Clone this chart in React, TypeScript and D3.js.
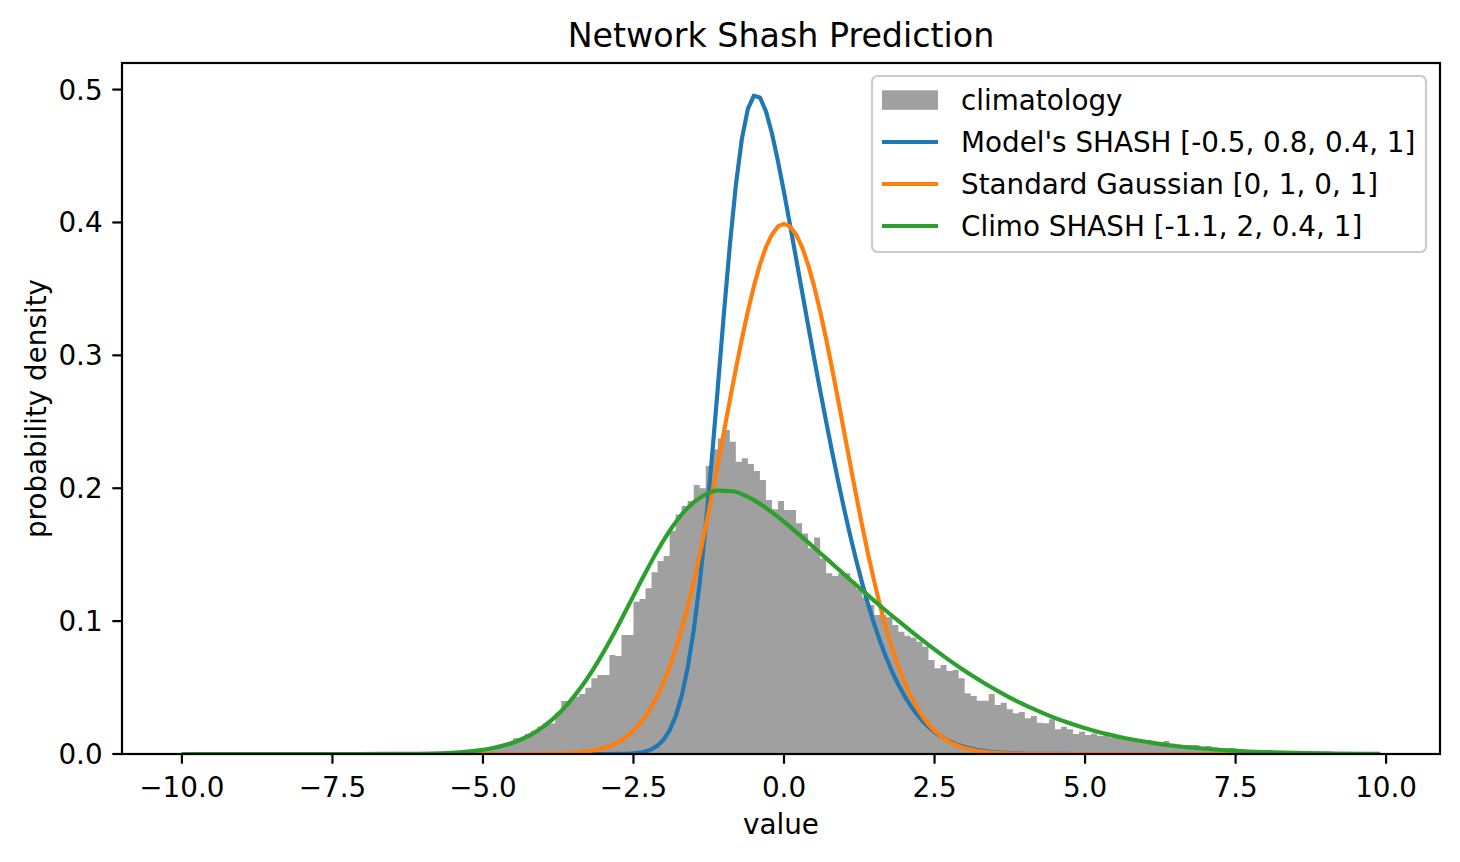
import * as d3 from "d3"

const title = "Network Shash Prediction"
const xLabel = "value"
const yLabel = "probability density"

const xTicks = [-10, -7.5, -5, -2.5, 0, 2.5, 5, 7.5, 10]
const yTicks = [0, 0.1, 0.2, 0.3, 0.4, 0.5]

// climatology histogram (density), bins of 0.1 starting at -5.2
const climoBinStart = -5.2
const climoBinWidth = 0.1
const climoDensity = [
  0.001, 0.002, 0.003, 0.0043, 0.0055, 0.0068, 0.008, 0.0118, 0.0118, 0.015,
  0.0175, 0.0205, 0.0233, 0.023, 0.031, 0.0399, 0.0399, 0.043, 0.0451, 0.0499,
  0.057, 0.0594, 0.0594, 0.0745, 0.0737, 0.0896, 0.0896, 0.1146, 0.1166, 0.1247,
  0.1367, 0.1452, 0.149, 0.168, 0.1803, 0.1866, 0.1904, 0.2024, 0.2, 0.2167,
  0.2293, 0.2375, 0.2438, 0.235, 0.2199, 0.2225, 0.2182, 0.2129, 0.2062, 0.1911,
  0.1841, 0.1904, 0.1836, 0.1836, 0.1736, 0.166, 0.1548, 0.163, 0.1472, 0.136,
  0.134, 0.136, 0.136, 0.13, 0.124, 0.118, 0.1121, 0.1046, 0.1046, 0.103,
  0.097, 0.092, 0.089, 0.0875, 0.0845, 0.0807, 0.0707, 0.0645, 0.067, 0.0625,
  0.0632, 0.057, 0.0457, 0.0436, 0.0401, 0.0401, 0.0451, 0.0369, 0.0386, 0.0336,
  0.0306, 0.0316, 0.0269, 0.0286, 0.0236, 0.0231, 0.0261, 0.0186, 0.0206, 0.0186,
  0.015, 0.0168, 0.0143, 0.0155, 0.0135, 0.014, 0.0125, 0.012, 0.0115, 0.011,
  0.0105, 0.0098, 0.0105, 0.0085, 0.0082, 0.0098, 0.0078, 0.0072, 0.0065, 0.0068,
  0.0068, 0.0055, 0.006, 0.005, 0.0042, 0.0038, 0.0045, 0.0038, 0.003, 0.0028,
  0.0022, 0.002, 0.0017, 0.0014, 0.0012, 0.001, 0.0008, 0.0006,
]

const modelShash: [number, number][] = [
  [-10, 0], [-3.0, 0], [-2.8, 0.00005], [-2.6, 0.00025], [-2.5, 0.0005],
  [-2.4, 0.001], [-2.3, 0.0019], [-2.2, 0.0035], [-2.1, 0.0063], [-2.0, 0.0108],
  [-1.9, 0.0177], [-1.8, 0.0283], [-1.7, 0.0436], [-1.6, 0.0648], [-1.5, 0.093],
  [-1.4, 0.1286], [-1.3, 0.1719], [-1.2, 0.2215], [-1.1, 0.2754], [-1.0, 0.3304],
  [-0.9, 0.3826], [-0.8, 0.4279], [-0.7, 0.4629], [-0.6, 0.4855], [-0.5, 0.4954],
  [-0.4, 0.4941], [-0.3, 0.4837], [-0.2, 0.4669], [-0.1, 0.446], [0, 0.4228],
  [0.1, 0.3982], [0.2, 0.3731], [0.3, 0.3479], [0.4, 0.3228], [0.5, 0.298],
  [0.6, 0.2737], [0.7, 0.2501], [0.8, 0.2271], [0.9, 0.2051], [1.0, 0.1841],
  [1.1, 0.1642], [1.2, 0.1456], [1.3, 0.1282], [1.4, 0.1122], [1.5, 0.0975],
  [1.6, 0.0842], [1.7, 0.0722], [1.8, 0.0615], [1.9, 0.0521], [2.0, 0.0438],
  [2.1, 0.0365], [2.2, 0.0303], [2.3, 0.0249], [2.4, 0.0204], [2.5, 0.0166],
  [2.6, 0.0134], [2.7, 0.0107], [2.8, 0.0085], [2.9, 0.0067], [3.0, 0.0053],
  [3.2, 0.0032], [3.4, 0.0019], [3.6, 0.0011], [3.8, 0.0006], [4.0, 0.0003],
  [4.5, 0.00006], [5.0, 0], [9.9, 0],
]

const stdGaussian: [number, number][] = [
  [-10, 0], [-4.5, 0], [-4.0, 0.0001], [-3.8, 0.0003], [-3.6, 0.0006], [-3.4, 0.0012],
  [-3.2, 0.0024], [-3.0, 0.0044], [-2.9, 0.006], [-2.8, 0.0079], [-2.7, 0.0104],
  [-2.6, 0.0136], [-2.5, 0.0175], [-2.4, 0.0224], [-2.3, 0.0283], [-2.2, 0.0355],
  [-2.1, 0.044], [-2.0, 0.054], [-1.9, 0.0656], [-1.8, 0.079], [-1.7, 0.094],
  [-1.6, 0.1109], [-1.5, 0.1295], [-1.4, 0.1497], [-1.3, 0.1714], [-1.2, 0.1942],
  [-1.1, 0.2179], [-1.0, 0.242], [-0.9, 0.2661], [-0.8, 0.2897], [-0.7, 0.3123],
  [-0.6, 0.3332], [-0.5, 0.3521], [-0.4, 0.3683], [-0.3, 0.3814], [-0.2, 0.391],
  [-0.1, 0.397], [0, 0.3989], [0.1, 0.397], [0.2, 0.391], [0.3, 0.3814],
  [0.4, 0.3683], [0.5, 0.3521], [0.6, 0.3332], [0.7, 0.3123], [0.8, 0.2897],
  [0.9, 0.2661], [1.0, 0.242], [1.1, 0.2179], [1.2, 0.1942], [1.3, 0.1714],
  [1.4, 0.1497], [1.5, 0.1295], [1.6, 0.1109], [1.7, 0.094], [1.8, 0.079],
  [1.9, 0.0656], [2.0, 0.054], [2.1, 0.044], [2.2, 0.0355], [2.3, 0.0283],
  [2.4, 0.0224], [2.5, 0.0175], [2.6, 0.0136], [2.7, 0.0104], [2.8, 0.0079],
  [2.9, 0.006], [3.0, 0.0044], [3.2, 0.0024], [3.4, 0.0012], [3.6, 0.0006],
  [3.8, 0.0003], [4.0, 0.0001], [4.5, 0], [9.9, 0],
]

const climoShash: [number, number][] = [
  [-10, 0], [-7.1, 0], [-6.6, 0.00005], [-6.35, 0.0001], [-6.1, 0.0002],
  [-5.85, 0.0004], [-5.6, 0.00077], [-5.35, 0.0014], [-5.1, 0.0025], [-4.85, 0.0043],
  [-4.6, 0.0071], [-4.35, 0.0113], [-4.1, 0.0174], [-3.85, 0.0259], [-3.6, 0.0372],
  [-3.35, 0.0515], [-3.1, 0.0688], [-2.85, 0.0886], [-2.6, 0.1102], [-2.35, 0.1322],
  [-2.1, 0.1531], [-1.85, 0.1712], [-1.6, 0.1852], [-1.35, 0.1942], [-1.1, 0.1982],
  [-0.85, 0.1977], [-0.6, 0.1935], [-0.35, 0.1868], [-0.1, 0.1784], [0.15, 0.1691],
  [0.4, 0.1593], [0.65, 0.1493], [0.9, 0.1392], [1.15, 0.1291], [1.4, 0.1192],
  [1.65, 0.1095], [1.9, 0.1001], [2.15, 0.0909], [2.4, 0.0821], [2.65, 0.0737],
  [2.9, 0.0657], [3.15, 0.0583], [3.4, 0.0513], [3.65, 0.0449], [3.9, 0.039],
  [4.15, 0.0337], [4.4, 0.0289], [4.65, 0.0246], [4.9, 0.0209], [5.15, 0.0175],
  [5.4, 0.0146], [5.65, 0.0121], [5.9, 0.01], [6.15, 0.0082], [6.4, 0.0066],
  [6.65, 0.0053], [6.9, 0.0043], [7.15, 0.0034], [7.4, 0.0027], [7.65, 0.0021],
  [8.15, 0.0013], [8.65, 0.0007], [9.15, 0.0004], [9.65, 0.0002], [9.9, 0.00015],
]

const legendLabels = [
  "climatology",
  "Model's SHASH [-0.5, 0.8, 0.4, 1]",
  "Standard Gaussian [0, 1, 0, 1]",
  "Climo SHASH [-1.1, 2, 0.4, 1]",
]

const W = 1460
const H = 862
const margin = { top: 63, right: 20, bottom: 108, left: 122 }
const FONT = "DejaVu Sans"
const FS = 27.8

const colors = {
  hist: "#a0a0a0",
  model: "#1f77b4",
  gauss: "#ff7f0e",
  climo: "#2ca02c",
}

export default function App() {
  const innerW = W - margin.left - margin.right
  const innerH = H - margin.top - margin.bottom

  const x = d3.scaleLinear().domain([-10.995, 10.895]).range([margin.left, margin.left + innerW])
  const y = d3.scaleLinear().domain([0, 0.52]).range([margin.top + innerH, margin.top])

  // histogram as a step area
  const histPts: [number, number][] = climoDensity.map((d, i) => [climoBinStart + i * climoBinWidth, d])
  histPts.push([climoBinStart + climoDensity.length * climoBinWidth, climoDensity[climoDensity.length - 1]])
  const histArea = d3
    .area<[number, number]>()
    .x(d => x(d[0]))
    .y0(y(0))
    .y1(d => y(d[1]))
    .curve(d3.curveStepAfter)

  const lineLin = d3
    .line<[number, number]>()
    .x(d => x(d[0]))
    .y(d => y(d[1]))
  const lineSmooth = d3
    .line<[number, number]>()
    .x(d => x(d[0]))
    .y(d => y(d[1]))
    .curve(d3.curveMonotoneX)

  const fmtX = d3.format(".1f")
  const fmtY = d3.format(".1f")

  const lw = 4.17
  const tickLen = 9.7
  const spine = 2.2

  // legend
  const lg = { x: 872, y: 76, w: 554, h: 176 }
  const rowY = [100, 142, 184, 226]
  const handleX0 = 882
  const handleX1 = 938
  const textX = 961

  return (
    <div style={{ position: "absolute", left: 0, top: 0 }}>
      <svg width={W} height={H} style={{ display: "block", background: "#fff" }} fontFamily={FONT}>
        <rect x={0} y={0} width={W} height={H} fill="#fff" />
        <path d={histArea(histPts) || ""} fill={colors.hist} stroke="none" />
        <clipPath id="plotclip">
          <rect x={margin.left} y={margin.top} width={innerW} height={innerH} />
        </clipPath>
        <g clipPath="url(#plotclip)">
          <path d={lineLin(modelShash) || ""} fill="none" stroke={colors.model} strokeWidth={lw} strokeLinejoin="round" />
          <path d={lineLin(stdGaussian) || ""} fill="none" stroke={colors.gauss} strokeWidth={lw} strokeLinejoin="round" />
          <path d={lineSmooth(climoShash) || ""} fill="none" stroke={colors.climo} strokeWidth={lw} strokeLinejoin="round" />
        </g>

        {/* spines */}
        <rect
          x={margin.left}
          y={margin.top}
          width={innerW}
          height={innerH}
          fill="none"
          stroke="#000"
          strokeWidth={spine}
        />

        {/* x ticks */}
        {xTicks.map(t => (
          <g key={"x" + t}>
            <line x1={x(t)} x2={x(t)} y1={y(0)} y2={y(0) + tickLen} stroke="#000" strokeWidth={spine} />
            <text x={x(t)} y={y(0) + 43} textAnchor="middle" fontSize={FS} fill="#000">
              {fmtX(t)}
            </text>
          </g>
        ))}

        {/* y ticks */}
        {yTicks.map(t => (
          <g key={"y" + t}>
            <line x1={margin.left - tickLen} x2={margin.left} y1={y(t)} y2={y(t)} stroke="#000" strokeWidth={spine} />
            <text x={margin.left - 19.4} y={y(t) + 10} textAnchor="end" fontSize={FS} fill="#000">
              {fmtY(t)}
            </text>
          </g>
        ))}

        <text x={margin.left + innerW / 2} y={834} textAnchor="middle" fontSize={FS} fill="#000">
          {xLabel}
        </text>
        <text
          transform={`translate(46,${margin.top + innerH / 2}) rotate(-90)`}
          textAnchor="middle"
          fontSize={FS}
          fill="#000"
        >
          {yLabel}
        </text>
        <text x={margin.left + innerW / 2} y={46.5} textAnchor="middle" fontSize={33.3} fill="#000">
          {title}
        </text>

        {/* legend */}
        <rect
          x={lg.x}
          y={lg.y}
          width={lg.w}
          height={lg.h}
          rx={5.6}
          fill="#fff"
          fillOpacity={0.8}
          stroke="#cccccc"
          strokeWidth={2.2}
        />
        <rect x={handleX0} y={rowY[0] - 9.7} width={handleX1 - handleX0} height={19.5} fill={colors.hist} />
        {[colors.model, colors.gauss, colors.climo].map((c, i) => (
          <line key={c} x1={handleX0} x2={handleX1} y1={rowY[i + 1]} y2={rowY[i + 1]} stroke={c} strokeWidth={lw} />
        ))}
        {legendLabels.map((l, i) => (
          <text key={l} x={textX} y={rowY[i] + 9.5} fontSize={FS} fill="#000">
            {l}
          </text>
        ))}
      </svg>
    </div>
  )
}
